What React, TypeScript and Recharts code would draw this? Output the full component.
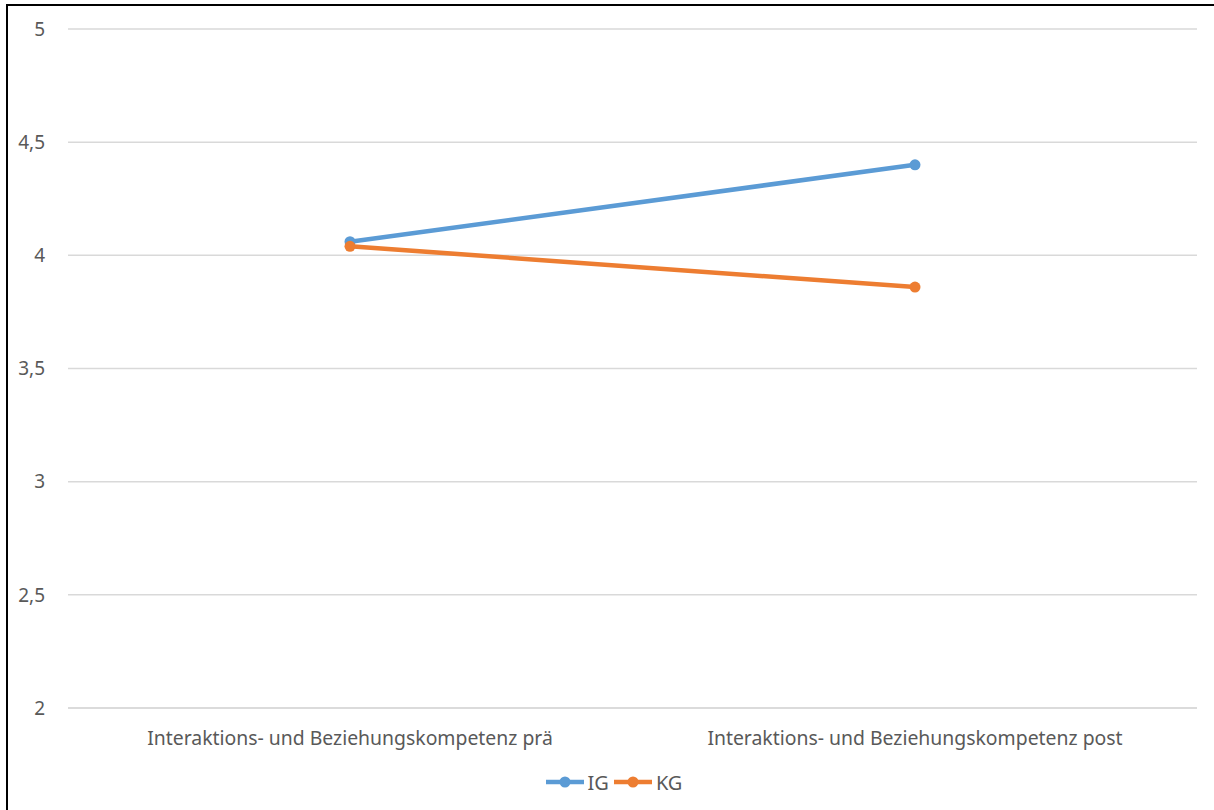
import { LineChart, Line, XAxis, YAxis, CartesianGrid, Legend } from 'recharts';

// Mittelwerte Interaktions- und Beziehungskompetenz, prä/post
const phases = ['Interaktions- und Beziehungskompetenz prä', 'Interaktions- und Beziehungskompetenz post'];
const igValues = [4.06, 4.4];
const kgValues = [4.04, 3.86];
const yTicks = [2, 2.5, 3, 3.5, 4, 4.5, 5];

const BLUE = '#5b9bd5';
const ORANGE = '#ed7d31';
const FONT = '"Noto Sans", "Open Sans", sans-serif';

const chartData = phases.map((phase, i) => ({ phase, IG: igValues[i], KG: kgValues[i] }));

const LegendContent = () => (
  <div style={{ display: 'flex', justifyContent: 'center', alignItems: 'center', height: 36, fontFamily: FONT, fontSize: 20, color: '#595959', paddingLeft: 36 }}>
    {[
      { name: 'IG', color: BLUE },
      { name: 'KG', color: ORANGE },
    ].map((item) => (
      <div key={item.name} style={{ display: 'flex', alignItems: 'center', marginRight: 5 }}>
        <svg width={38} height={14}>
          <line x1={0} y1={7} x2={38} y2={7} stroke={item.color} strokeWidth={4.5} />
          <circle cx={19} cy={7} r={5.5} fill={item.color} />
        </svg>
        <span style={{ marginLeft: 4 }}>{item.name}</span>
      </div>
    ))}
  </div>
);

export default function App() {
  return (
    <div style={{ position: 'fixed', inset: 0, overflow: 'hidden', background: '#fff' }}>
      <div style={{ position: 'absolute', left: 6, top: 4, width: 1240, height: 840, border: '2px solid #000' }} />
      <div style={{ position: 'absolute', left: 0, top: 0 }}>
        <LineChart width={1214} height={810} data={chartData} margin={{ top: 29, right: 17, left: 0, bottom: 10 }}>
          <CartesianGrid vertical={false} stroke="#d9d9d9" strokeWidth={1.5} />
          <XAxis
            dataKey="phase"
            height={56}
            interval={0}
            padding={{ left: 282, right: 282 }}
            axisLine={{ stroke: '#d9d9d9', strokeWidth: 1.5 }}
            tickLine={false}
            tickMargin={17}
            tick={{ fill: '#595959', fontSize: 19.4, fontFamily: FONT }}
          />
          <YAxis
            width={68}
            domain={[2, 5]}
            ticks={yTicks}
            axisLine={false}
            tickLine={false}
            tickMargin={17}
            tickFormatter={(v: number) => String(v).replace('.', ',')}
            tick={{ fill: '#595959', fontSize: 19, fontFamily: FONT }}
          />
          <Legend verticalAlign="bottom" height={36} content={<LegendContent />} />
          <Line dataKey="IG" stroke={BLUE} strokeWidth={4.5} dot={{ r: 5.5, fill: BLUE, stroke: BLUE, strokeWidth: 0 }} isAnimationActive={false} />
          <Line dataKey="KG" stroke={ORANGE} strokeWidth={4.5} dot={{ r: 5.5, fill: ORANGE, stroke: ORANGE, strokeWidth: 0 }} isAnimationActive={false} />
        </LineChart>
      </div>
    </div>
  );
}
